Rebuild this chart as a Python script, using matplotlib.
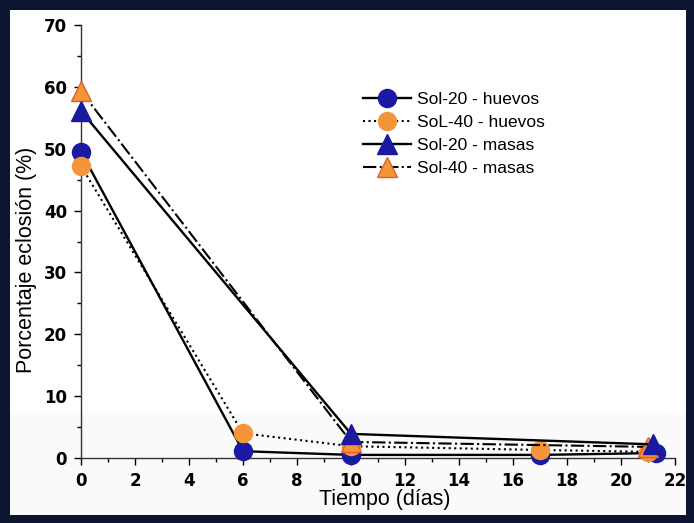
import matplotlib.pyplot as plt
import matplotlib.patches as mpatches
from matplotlib.ticker import MultipleLocator

# datos
dias_h20 = [0, 6, 10, 17, 21.3]
sol20_huevos = [49.5, 1.1, 0.5, 0.5, 0.8]

dias_h40 = [0, 6, 10, 17, 21]
sol40_huevos = [47.2, 4.0, 1.9, 1.3, 1.0]

dias_m20 = [0, 10, 21.2]
sol20_masas = [56.1, 3.9, 2.2]

dias_m40 = [0, 10, 21]
sol40_masas = [59.3, 2.6, 1.8]

azul = '#1a1aa0'
naranja = '#f5953a'

fig = plt.figure(figsize=(6.94, 5.23), dpi=100)
fig.patch.set_facecolor('#0b1430')

# panel blanco dentro del marco oscuro (con la franja gris clara de abajo)
fig.add_artist(mpatches.Rectangle((10/694, 1 - 515/523), 676/694, 505/523,
                                  transform=fig.transFigure, facecolor='white',
                                  edgecolor='none', zorder=-10))
fig.add_artist(mpatches.Rectangle((10/694, 1 - 515/523), 676/694, 102/523,
                                  transform=fig.transFigure, facecolor='#fafafa',
                                  edgecolor='none', zorder=-9))

ax = fig.add_axes([81/694, 65/523, 594/694, 433/523], zorder=1)
ax.set_facecolor('none')

ax.plot(dias_h20, sol20_huevos, '-', color='black', lw=1.7, marker='o', ms=13,
        mfc=azul, mec=azul, label='Sol-20 - huevos', zorder=3)
ax.plot(dias_h40, sol40_huevos, ':', color='black', lw=1.5, marker='o', ms=13,
        mfc=naranja, mec=naranja, label='SoL-40 - huevos', zorder=4)
ax.plot(dias_m20, sol20_masas, '-', color='black', lw=1.7, marker='^', ms=14,
        mfc=azul, mec=azul, label='Sol-20 - masas', zorder=6)
ax.plot(dias_m40, sol40_masas, '-.', color='black', lw=1.5, marker='^', ms=14,
        mfc=naranja, mec='#e0602a', label='Sol-40 - masas', zorder=5)

ax.set_xlim(0, 22)
ax.set_ylim(0, 70)
ax.xaxis.set_major_locator(MultipleLocator(2))
ax.xaxis.set_minor_locator(MultipleLocator(1))
ax.yaxis.set_major_locator(MultipleLocator(10))
ax.yaxis.set_minor_locator(MultipleLocator(5))
for s in ['top', 'right']:
    ax.spines[s].set_visible(False)
for s in ['left', 'bottom']:
    ax.spines[s].set_linewidth(1.0)
    ax.spines[s].set_color('#333333')
ax.tick_params(which='major', length=5, width=1, direction='out', pad=5)
ax.tick_params(which='minor', length=3, width=1, direction='out')
for lab in ax.get_xticklabels() + ax.get_yticklabels():
    lab.set_family(['Liberation Sans Narrow', 'DejaVu Sans'])
    lab.set_fontweight('bold')
    lab.set_fontsize(12)

ax.set_xlabel('Tiempo (días)', fontsize=15.5, family='Liberation Sans')
ax.set_ylabel('Porcentaje eclosión (%)', fontsize=15.5, family='Liberation Sans')
ax.xaxis.set_label_coords(0.512, -0.072)
ax.yaxis.set_label_coords(-0.074, 0.457)
for ln in ax.get_lines():
    ln.set_clip_on(False)

ax.legend(loc='upper left', bbox_to_anchor=(347/694, 1 - 76/523),
          bbox_transform=fig.transFigure, frameon=False,
          prop={'family': 'Liberation Sans', 'size': 12.5},
          handlelength=2.8, handletextpad=0.35, labelspacing=0.45, markerscale=1.0)

fig.savefig('out.png', dpi=100, facecolor=fig.get_facecolor())
